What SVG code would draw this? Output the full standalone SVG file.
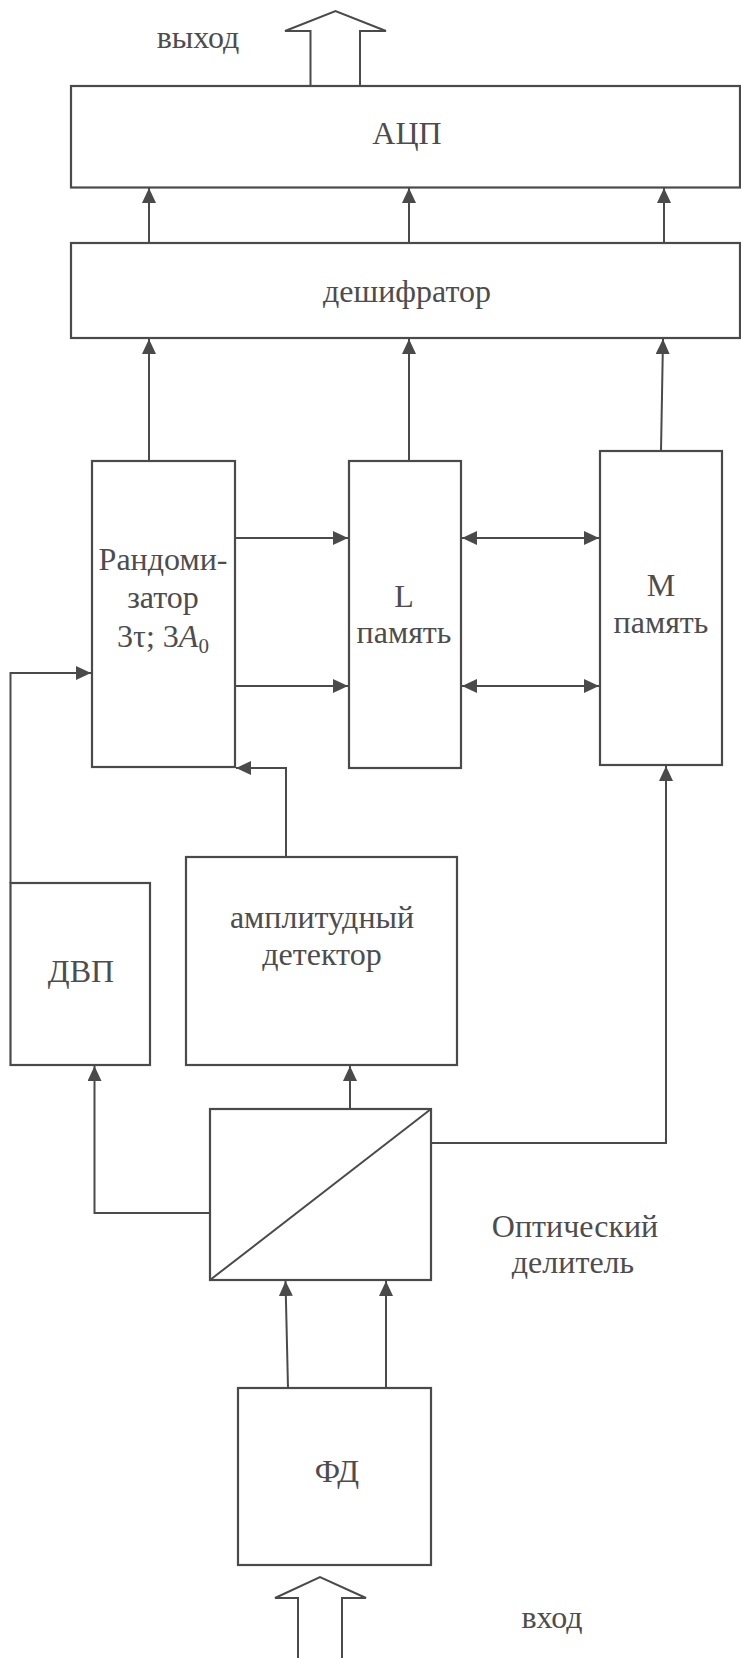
<svg xmlns="http://www.w3.org/2000/svg" width="741" height="1658" viewBox="0 0 741 1658">
<defs>
<style>
.box{fill:none;stroke:#4a4a4a;stroke-width:2.2}
.ln{fill:none;stroke:#4a4a4a;stroke-width:2}
.big{fill:#fff;stroke:#4a4a4a;stroke-width:2}
.t{font-size:32px;fill:#4d4d4d;text-anchor:middle}
</style>
<marker id="ah" markerUnits="userSpaceOnUse" markerWidth="16" markerHeight="14" refX="15" refY="7" orient="auto-start-reverse">
<path d="M0,0 L15,7 L0,14 z" fill="#4a4a4a"/>
</marker>
</defs>
<rect width="741" height="1658" fill="#fff"/>

<g id="connectors">
<path class="ln" d="M149,461 V339" marker-end="url(#ah)"/>
<path class="ln" d="M409,461 V339" marker-end="url(#ah)"/>
<path class="ln" d="M661,451 L663,339" marker-end="url(#ah)"/>
<path class="ln" d="M149,243 V188" marker-end="url(#ah)"/>
<path class="ln" d="M409,243 V188" marker-end="url(#ah)"/>
<path class="ln" d="M664,243 V188" marker-end="url(#ah)"/>
<path class="ln" d="M235,538 H348" marker-end="url(#ah)"/>
<path class="ln" d="M235,686 H348" marker-end="url(#ah)"/>
<path class="ln" d="M462,538 H599" marker-start="url(#ah)" marker-end="url(#ah)"/>
<path class="ln" d="M462,686 H599" marker-start="url(#ah)" marker-end="url(#ah)"/>
<path class="ln" d="M10.5,883 V673 H91" marker-end="url(#ah)"/>
<path class="ln" d="M286,857 V768 H236" marker-end="url(#ah)"/>
<path class="ln" d="M210,1213 H94.5 V1066" marker-end="url(#ah)"/>
<path class="ln" d="M350,1109 V1066" marker-end="url(#ah)"/>
<path class="ln" d="M431,1143 H666 V766" marker-end="url(#ah)"/>
<path class="ln" d="M288,1388 L285.5,1281" marker-end="url(#ah)"/>
<path class="ln" d="M386,1388 V1281" marker-end="url(#ah)"/>
</g>

<g font-family="'Liberation Serif', 'DejaVu Serif', serif">
<g id="output">
<polygon class="big" points="310.5,86 310.5,31 285,31 335.5,11 386,31 360,31 360,86"/>
<text class="t" x="198" y="48">выход</text>
</g>

<g id="adc">
<rect class="box" x="71" y="86" width="669" height="101.5"/>
<text class="t" x="407" y="144">АЦП</text>
</g>

<g id="decoder">
<rect class="box" x="71" y="243" width="669" height="95"/>
<text class="t" x="407" y="302">дешифратор</text>
</g>

<g id="randomizer">
<rect class="box" x="92" y="461" width="143" height="306"/>
<text class="t" x="163" y="570">Рандоми-</text>
<text class="t" x="163" y="608">затор</text>
<text class="t" x="163" y="647">3τ; 3<tspan font-style="italic">A</tspan><tspan font-size="21" dy="6">0</tspan></text>
</g>

<g id="lmem">
<rect class="box" x="349" y="461" width="112" height="307"/>
<text class="t" x="404" y="607">L</text>
<text class="t" x="404" y="643">память</text>
</g>

<g id="mmem">
<rect class="box" x="600" y="451" width="122" height="314"/>
<text class="t" x="661" y="596">M</text>
<text class="t" x="661" y="633">память</text>
</g>

<g id="dvp">
<rect class="box" x="10.5" y="883" width="139.5" height="182"/>
<text class="t" x="81" y="982">ДВП</text>
</g>

<g id="ampdet">
<rect class="box" x="186" y="857" width="271" height="208"/>
<text class="t" x="322" y="928">амплитудный</text>
<text class="t" x="322" y="965">детектор</text>
</g>

<g id="splitter">
<rect class="box" x="210" y="1109" width="221" height="171"/>
<line class="ln" x1="210" y1="1280" x2="431" y2="1109"/>
<text class="t" x="575" y="1237">Оптический</text>
<text class="t" x="573" y="1273">делитель</text>
</g>

<g id="fd">
<rect class="box" x="238" y="1388" width="193" height="177"/>
<text class="t" x="337" y="1482">ФД</text>
</g>

<g id="input">
<polygon class="big" points="298,1660 298,1598 275,1598 320,1577 366,1598 342,1598 342,1660"/>
<text class="t" x="552" y="1628">вход</text>
</g>
</g>
</svg>
